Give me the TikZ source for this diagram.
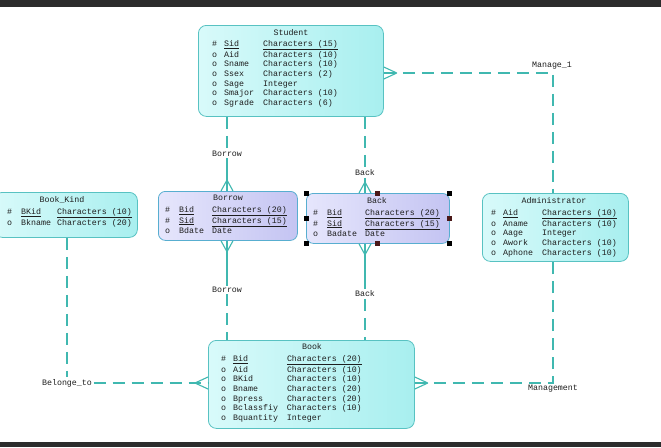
\documentclass[tikz,border=0pt]{standalone}
\usepackage{fontspec}
\newfontfamily\erfont{Liberation Mono}
\usetikzlibrary{calc}
\definecolor{entA}{HTML}{D8FAFA}
\definecolor{entB}{HTML}{A8EFEF}
\definecolor{entLine}{HTML}{58C2C2}
\definecolor{relA}{HTML}{E6E6FC}
\definecolor{relB}{HTML}{C4C4F2}
\definecolor{relLine}{HTML}{58AED0}
\definecolor{conn}{HTML}{40B8B0}
\definecolor{barc}{HTML}{2C2C2C}
\definecolor{txtc}{HTML}{1E1E1E}
\definecolor{hmid}{HTML}{4A1818}
\newcommand\ertab[1]{\begin{tabular}[t]{@{}l@{\hspace{7pt}}l@{\hspace{9pt}}l@{}}#1\end{tabular}}
\begin{document}
\begin{tikzpicture}[x=1pt,y=-1pt,
  ent/.style={draw=entLine, line width=0.8pt, rounded corners=8pt, left color=entA, right color=entB, anchor=north west, inner sep=0pt},
  rel/.style={draw=relLine, line width=0.8pt, rounded corners=7pt, left color=relA, right color=relB, anchor=north west, inner sep=0pt},
  etxt/.style={font={\erfont\fontsize{8.3}{9.7}\selectfont}, text=txtc, inner sep=0pt, anchor=base west},
  ttl/.style={font={\erfont\fontsize{8.3}{9.7}\selectfont}, text=txtc, inner sep=0pt, anchor=base},
  lbl/.style={font={\erfont\fontsize{8.3}{9.7}\selectfont}, text=txtc, fill=white, inner sep=1.5pt},
  plainlbl/.style={font={\erfont\fontsize{8.3}{9.7}\selectfont}, text=txtc, inner sep=0pt},
  cn/.style={draw=conn, line width=1.1pt},
  rdash/.style={dash pattern=on 12pt off 7pt},
  handle/.style={fill=black, minimum size=5pt, inner sep=0pt}
]
\clip (0,0) rectangle (661,447);
\useasboundingbox (0,0) rectangle (661,447);
\fill[white] (0,0) rectangle (661,447);
\fill[barc] (0,0) rectangle (661,7);
\fill[barc] (0,442) rectangle (661,447);

% ---------- entity boxes ----------
\node[ent, minimum width=185pt, minimum height=91pt] (student) at (198,25) {};
\node[ent, minimum width=143pt, minimum height=45pt] (bookkind) at (-6,192) {};
\node[rel, minimum width=139pt, minimum height=49pt] (borrow) at (158,191) {};
\node[rel, minimum width=143pt, minimum height=50pt] (back) at (306,193) {};
\node[ent, minimum width=146pt, minimum height=68pt] (admin) at (482,193) {};
\node[ent, minimum width=206pt, minimum height=88pt] (book) at (208,340) {};

% ---------- titles ----------
\node[ttl] (studentT) at (291,35.5) {Student};
\node[ttl] (bookkindT) at (62,202) {Book\_Kind};
\node[ttl] (borrowT) at (228,200.5) {Borrow};
\node[ttl] (backT) at (377,203.5) {Back};
\node[ttl] (adminT) at (554,203.5) {Administrator};
\node[ttl] (bookT) at (312,349.5) {Book};

% ---------- attributes ----------
\node[etxt] (studentR) at (212,46.5) {\ertab{%
\#&\underline{Sid}&\underline{Characters (15)}\\
o&Aid&Characters (10)\\
o&Sname&Characters (10)\\
o&Ssex&Characters (2)\\
o&Sage&Integer\\
o&Smajor&Characters (10)\\
o&Sgrade&Characters (6)}};

\node[etxt] (bookkindR) at (7,214.5) {\begin{tabular}[t]{@{}l@{\hspace{9pt}}l@{\hspace{6pt}}l@{}}%
\#&\underline{BKid}&\underline{Characters (10)}\\
o&Bkname&Characters (20)\end{tabular}};

\node[etxt] (borrowR) at (165,212.5) {\begin{tabular}[t]{@{}l@{\hspace{9pt}}l@{\hspace{8pt}}l@{}}%
\#&\underline{Bid}&\underline{Characters (20)}\\
\#&\underline{Sid}&\underline{Characters (15)}\\
o&Bdate&Date\end{tabular}};

\node[etxt] (backR) at (313,215.5) {\begin{tabular}[t]{@{}l@{\hspace{9pt}}l@{\hspace{8pt}}l@{}}%
\#&\underline{Bid}&\underline{Characters (20)}\\
\#&\underline{Sid}&\underline{Characters (15)}\\
o&Badate&Date\end{tabular}};

\node[etxt] (adminR) at (491,215.5) {\ertab{%
\#&\underline{Aid}&\underline{Characters (10)}\\
o&Aname&Characters (10)\\
o&Aage&Integer\\
o&Awork&Characters (10)\\
o&Aphone&Characters (10)}};

\node[etxt] (bookR) at (221,361.5) {\ertab{%
\#&\underline{Bid}&\underline{Characters (20)}\\
o&Aid&Characters (10)\\
o&BKid&Characters (10)\\
o&Bname&Characters (20)\\
o&Bpress&Characters (20)\\
o&Bclassfiy&Characters (10)\\
o&Bquantity&Integer}};

% ---------- selection handles on Back ----------
\node[handle] (h1) at (back.north west) {};
\node[handle, fill=hmid] (h2) at (back.north) {};
\node[handle] (h3) at (back.north east) {};
\node[handle] (h4) at (back.west) {};
\node[handle, fill=hmid] (h5) at (back.east) {};
\node[handle] (h6) at (back.south west) {};
\node[handle, fill=hmid] (h7) at (back.south) {};
\node[handle] (h8) at (back.south east) {};

% ---------- connector labels ----------
\node[lbl] (l1) at (227,154) {Borrow};
\node[lbl] (l2) at (227,290) {Borrow};
\node[lbl] (l3) at (365,173) {Back};
\node[lbl] (l4) at (365,294) {Back};
\node[plainlbl] (l5) at (552,66) {Manage\_1};
\node[plainlbl] (l6) at (553,389) {Management};
\node[lbl] (l7) at (67,383) {Belonge\_to};

\coordinate (c5) at (553,73);
\coordinate (c6) at (553,383);

% ---------- Student - Borrow ----------
\coordinate (e1) at (l1 |- borrow.north);
\draw[cn, rdash] (student.south -| l1) -- (l1);
\draw[cn] (l1) -- (e1);
\draw[cn] ($(e1)+(0,-11)$) -- ($(e1)+(-6,0)$) ($(e1)+(0,-11)$) -- ($(e1)+(6,0)$);

% ---------- Borrow - Book ----------
\coordinate (e2) at (l2 |- borrow.south);
\draw[cn] (e2) -- (l2);
\draw[cn, rdash] (l2) -- (l2 |- book.north);
\draw[cn] ($(e2)+(0,11)$) -- ($(e2)+(-6,0)$) ($(e2)+(0,11)$) -- ($(e2)+(6,0)$);

% ---------- Student - Back ----------
\coordinate (e3) at (l3 |- back.north);
\draw[cn, rdash] (student.south -| l3) -- (l3);
\draw[cn] (l3) -- (e3);
\draw[cn] ($(e3)+(0,-11)$) -- ($(e3)+(-6,0)$) ($(e3)+(0,-11)$) -- ($(e3)+(6,0)$);

% ---------- Back - Book ----------
\coordinate (e4) at (l4 |- back.south);
\draw[cn] (e4) -- (l4);
\draw[cn, rdash] (l4) -- (l4 |- book.north);
\draw[cn] ($(e4)+(0,11)$) -- ($(e4)+(-6,0)$) ($(e4)+(0,11)$) -- ($(e4)+(6,0)$);

% ---------- Manage_1 : Student - Administrator ----------
\coordinate (e5) at (student.east |- c5);
\draw[cn, rdash] (e5) -- (c5) -- (admin.north -| c5);
\draw[cn] ($(e5)+(13,0)$) -- ($(e5)+(0,-6)$) ($(e5)+(13,0)$) -- ($(e5)+(0,6)$);

% ---------- Management : Book - Administrator ----------
\coordinate (e6) at (book.east |- c6);
\draw[cn, rdash] (e6) -- (c6) -- (admin.south -| c6);
\draw[cn] ($(e6)+(13,0)$) -- ($(e6)+(0,-6)$) ($(e6)+(13,0)$) -- ($(e6)+(0,6)$);

% ---------- Belonge_to : Book_Kind - Book ----------
\coordinate (e7) at (book.west |- l7);
\draw[cn, rdash] (bookkind.south -| l7) -- (l7);
\draw[cn, rdash] (l7) -- (e7);
\draw[cn] ($(e7)+(-13,0)$) -- ($(e7)+(0,-6)$) ($(e7)+(-13,0)$) -- ($(e7)+(0,6)$);
\end{tikzpicture}
\end{document}
